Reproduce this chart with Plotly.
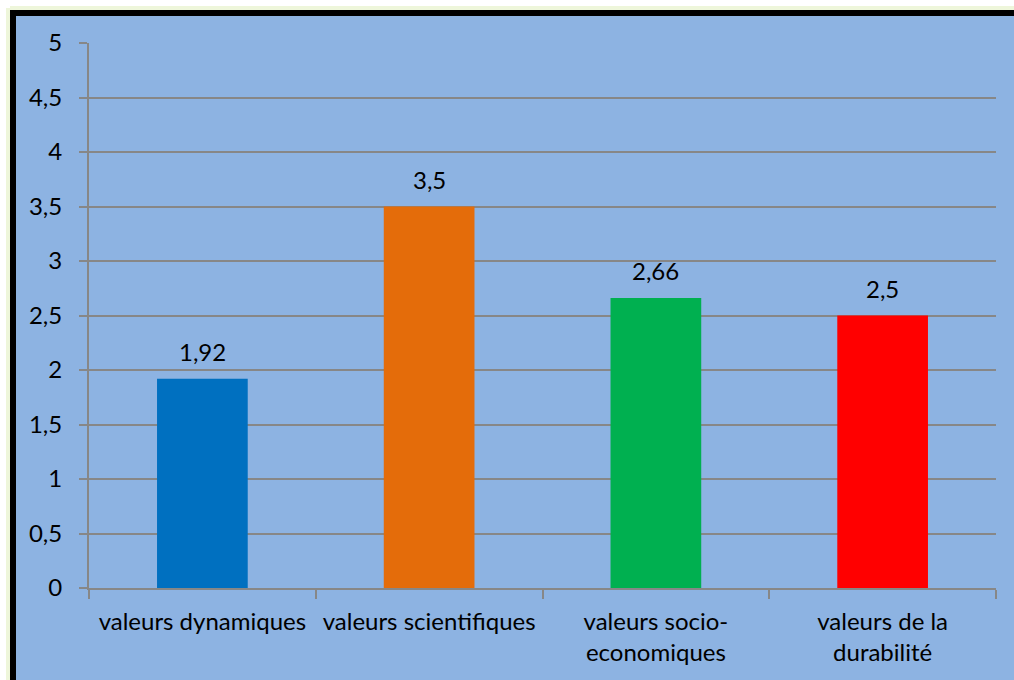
import plotly.graph_objects as go

categories = ["valeurs dynamiques", "valeurs scientifiques",
              "valeurs socio-<br>economiques", "valeurs de la<br>durabilité"]
values = [1.92, 3.5, 2.66, 2.5]
bar_colors = ["#0070C0", "#E46C0A", "#00B050", "#FF0000"]
y_ticks = [0, 0.5, 1, 1.5, 2, 2.5, 3, 3.5, 4, 4.5, 5]

W, H = 1014, 680
ML, MR, MT, MB = 89, 18, 43, 92
PW, PH = W - ML - MR, H - MT - MB

BG = "#8DB3E2"
GRID = "#878787"
FONT = "Lato"
FS = 24


def px(x):
    return (x - ML) / PW


def py(y):
    return (H - MB - y) / PH


fig = go.Figure(go.Bar(
    x=categories, y=values, marker=dict(color=bar_colors, line=dict(width=0)),
    width=0.4, hoverinfo="skip",
))

# value labels above each bar
for c, v in zip(categories, values):
    fig.add_annotation(x=c, y=v, text=f"{v:g}".replace(".", ","), showarrow=False,
                       yanchor="bottom", yshift=11,
                       font=dict(family=FONT, size=FS, color="black"))

shapes = [
    # white margin outside the frame (top and left)
    dict(type="rect", xref="paper", yref="paper", x0=px(0), x1=px(W), y0=py(0), y1=py(10),
         fillcolor="white", line=dict(width=0), layer="below"),
    dict(type="rect", xref="paper", yref="paper", x0=px(0), x1=px(10), y0=py(0), y1=py(H),
         fillcolor="white", line=dict(width=0), layer="below"),
    # soft glow just outside the frame
    dict(type="line", xref="paper", yref="paper", x0=px(10), x1=px(W), y0=py(8), y1=py(8),
         line=dict(color="#EEF6DA", width=4), layer="below"),
    dict(type="line", xref="paper", yref="paper", x0=px(8), x1=px(8), y0=py(8), y1=py(H),
         line=dict(color="#EEF6DA", width=4), layer="below"),
    # black frame
    dict(type="rect", xref="paper", yref="paper", x0=px(10), x1=px(W), y0=py(10), y1=py(16),
         fillcolor="black", line=dict(width=0), layer="below"),
    dict(type="rect", xref="paper", yref="paper", x0=px(10), x1=px(16), y0=py(10), y1=py(H),
         fillcolor="black", line=dict(width=0), layer="below"),
]

fig.update_layout(
    width=W, height=H,
    margin=dict(l=ML, r=MR, t=MT, b=MB, pad=0),
    paper_bgcolor=BG, plot_bgcolor=BG,
    separators=", ",
    showlegend=False,
    bargap=0.6,
    font=dict(family=FONT, size=FS, color="black"),
    shapes=shapes,
    xaxis=dict(
        type="category", showgrid=False, showline=True, linecolor=GRID, linewidth=2,
        ticks="outside", tickson="boundaries", ticklen=9, tickcolor=GRID, tickwidth=2,
        ticklabelstandoff=11, tickangle=0, automargin=False,
        tickfont=dict(family=FONT, size=FS, color="black"), fixedrange=True,
    ),
    yaxis=dict(
        range=[0, 5], tickvals=y_ticks, tickformat="~g",
        showgrid=True, gridcolor=GRID, gridwidth=2, zeroline=False,
        showline=True, linecolor=GRID, linewidth=2,
        ticks="outside", ticklen=8, tickcolor=GRID, tickwidth=2,
        ticklabelstandoff=12, automargin=False,
        tickfont=dict(family=FONT, size=FS, color="black"), fixedrange=True,
    ),
)

fig.write_html("out.html")
